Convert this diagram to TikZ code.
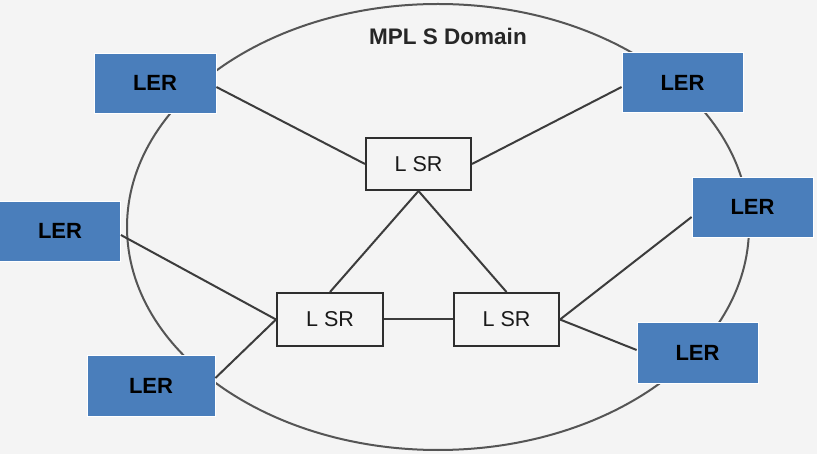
\documentclass[tikz,border=0pt]{standalone}
\usepackage{fontspec}
\setmainfont{Liberation Sans}
\definecolor{bgc}{HTML}{F4F4F4}
\definecolor{lerblue}{HTML}{4A7EBB}
\definecolor{linec}{HTML}{3C3C3C}
\definecolor{ellc}{HTML}{555555}
\definecolor{lsrc}{HTML}{2E2E2E}
\tikzset{
  lerbox/.style={rectangle, fill=lerblue, draw=white, line width=0.8pt,
    minimum width=121pt, minimum height=60pt, inner sep=0pt,
    font=\fontsize{22}{25}\selectfont\bfseries, text=black},
  lsrbox/.style={rectangle, fill=bgc, draw=lsrc, line width=2pt,
    minimum width=105pt, minimum height=52pt, inner sep=0pt,
    font=\fontsize{21.5}{24}\selectfont, text=black!90},
  conn/.style={draw=linec, line width=2pt},
  titlefont/.style={font=\fontsize{22.5}{26}\selectfont\bfseries, text=black!85}
}
\begin{document}
\begin{tikzpicture}[x=1pt,y=-1pt]
\fill[bgc] (0,0) rectangle (817,454);
\useasboundingbox (0,0) rectangle (817,454);
% domain ellipse
\draw[ellc, line width=2pt] (438,227) ellipse [x radius=311, y radius=223];
\node[titlefont] (title) at (448,36) {MPL S Domain};
% LSR nodes
\node[lsrbox] (lsr1) at (418.5,164) {L SR};
\node[lsrbox, minimum width=106pt, minimum height=53pt] (lsr2) at (330,319.5) {L SR};
\node[lsrbox, minimum height=53pt] (lsr3) at (506.5,319.5) {L SR};
% LER nodes
\node[lerbox, minimum width=122pt] (ler1) at (155,83) {LER\hspace{9pt}};
\node[lerbox] (ler2) at (682.5,82.5) {LER\hspace{8pt}};
\node[lerbox, minimum width=121pt] (ler3) at (60,231) {LER\hspace{4pt}};
\node[lerbox] (ler4) at (752.5,207) {LER\hspace{8pt}};
\node[lerbox, minimum width=128pt, minimum height=61pt] (ler5) at (151,385.5) {LER\hspace{14pt}};
\node[lerbox, minimum height=61pt] (ler6) at (697.5,352.5) {LER\hspace{10pt}};
% connectors
\draw[conn] ([yshift=-4pt]ler1.east) -- (lsr1.west);
\draw[conn] ([yshift=-4.5pt]ler2.west) -- (lsr1.east);
\draw[conn] (lsr1.south) -- (lsr2.north);
\draw[conn] (lsr1.south) -- (lsr3.north);
\draw[conn] (lsr2.east) -- (lsr3.west);
\draw[conn] ([yshift=-4pt]ler3.east) -- (lsr2.west);
\draw[conn] ([yshift=7.5pt]ler5.east) -- (lsr2.west);
\draw[conn] ([yshift=-10pt]ler4.west) -- (lsr3.east);
\draw[conn] ([yshift=2.5pt]ler6.west) -- (lsr3.east);
\end{tikzpicture}
\end{document}
